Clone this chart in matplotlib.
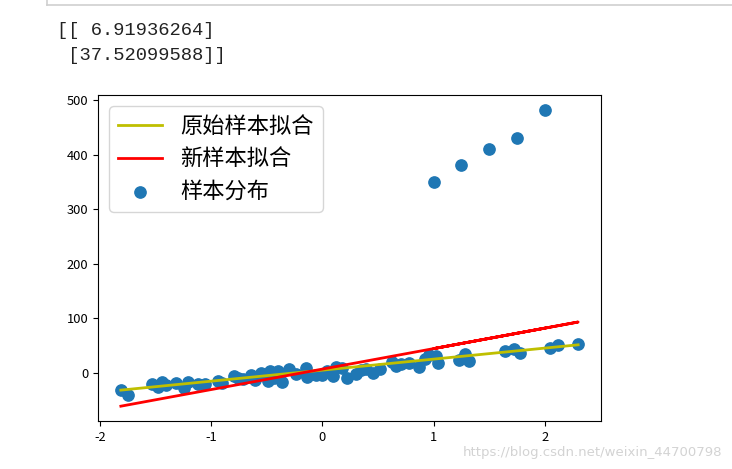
import matplotlib
matplotlib.use("Agg")
import matplotlib.pyplot as plt
from matplotlib.lines import Line2D
import numpy as np

plt.rcParams['font.family'] = ['Noto Sans CJK SC', 'DejaVu Sans']
plt.rcParams['axes.unicode_minus'] = False

# sample data
sample_x = [-1.81, -1.75, -1.53, -1.48, -1.44, -1.40, -1.31, -1.24, -1.21, -1.12,
            -1.05, -0.94, -0.90, -0.79, -0.76, -0.71, -0.64, -0.60, -0.55, -0.49,
            -0.47, -0.43, -0.40, -0.36, -0.30, -0.24, -0.15, -0.14, -0.06, 0.00,
            0.04, 0.10, 0.12, 0.18, 0.22, 0.30, 0.35, 0.39, 0.46, 0.52,
            0.63, 0.66, 0.71, 0.78, 0.87, 0.92, 0.96, 1.02, 1.04, 1.23,
            1.28, 1.32, 1.64, 1.72, 1.78, 2.05, 2.12, 2.30]
sample_y = [-31, -40, -20, -26, -17, -22, -18, -27, -17, -21,
            -20, -14, -18, -6, -9, -11, -4, -13, 0, -14,
            3, -9, 4, -16, 7, -2, 9, -8, -4, -3,
            3, -5, 10, 9, -9, -2, 6, 7, -1, 8,
            20, 12, 16, 19, 10, 26, 32, 31, 18, 24,
            35, 22, 40, 43, 37, 45, 52, 53]
outlier_x = [1.0, 1.25, 1.5, 1.75, 2.0]
outlier_y = [350, 380, 410, 430, 482]

# fitted coefficients [intercept, slope]
orig_coef = [5.0, 20.2]
new_coef = [6.91936264, 37.52099588]
printed_text = "[[ 6.91936264]\n [37.52099588]]"

labels = ['原始样本拟合', '新样本拟合', '样本分布']

all_x = np.array(sample_x + outlier_x)
all_y = np.array(sample_y + outlier_y)

fig = plt.figure(figsize=(7.32, 4.69), dpi=100)
ax = fig.add_axes([98/732, 1 - 421/469, (601-98)/732, (421-95)/469])

xs = np.array(sample_x)
ax.plot(xs, orig_coef[0] + orig_coef[1] * xs, color='y', lw=2.0, label=labels[0])
ax.plot(all_x, new_coef[0] + new_coef[1] * all_x, color='r', lw=2.0, label=labels[1])
ax.scatter(all_x, all_y, s=66, color='#1f77b4', label=labels[2])

ax.set_yticks([0, 100, 200, 300, 400, 500])
ax.set_xticks([-2, -1, 0, 1, 2])
ax.tick_params(labelsize=9.3)

ax.legend(loc='upper left', prop={'size': 16}, labelspacing=0.42,
          handlelength=2.0, borderaxespad=0.5)

# notebook output text
fig.text(57/732, 1 - 43/469, printed_text, family='Liberation Mono',
         fontsize=13.5, va='center', ha='left', linespacing=1.6, color='#222222')

# notebook cell border
fig.add_artist(Line2D([47/732, 47/732], [1.0, 1 - 5/469], color='#cfcfcf', lw=1.2,
                      transform=fig.transFigure))
fig.add_artist(Line2D([47/732, 1.0], [1 - 5/469, 1 - 5/469], color='#cfcfcf', lw=1.2,
                      transform=fig.transFigure))

# watermark
fig.text(722/732, 1 - 452/469, "https://blog.csdn.net/weixin_44700798",
         family='DejaVu Sans', fontsize=9.5, color='#d3d3d3', ha='right', va='center')

fig.savefig('out.png', dpi=100)
